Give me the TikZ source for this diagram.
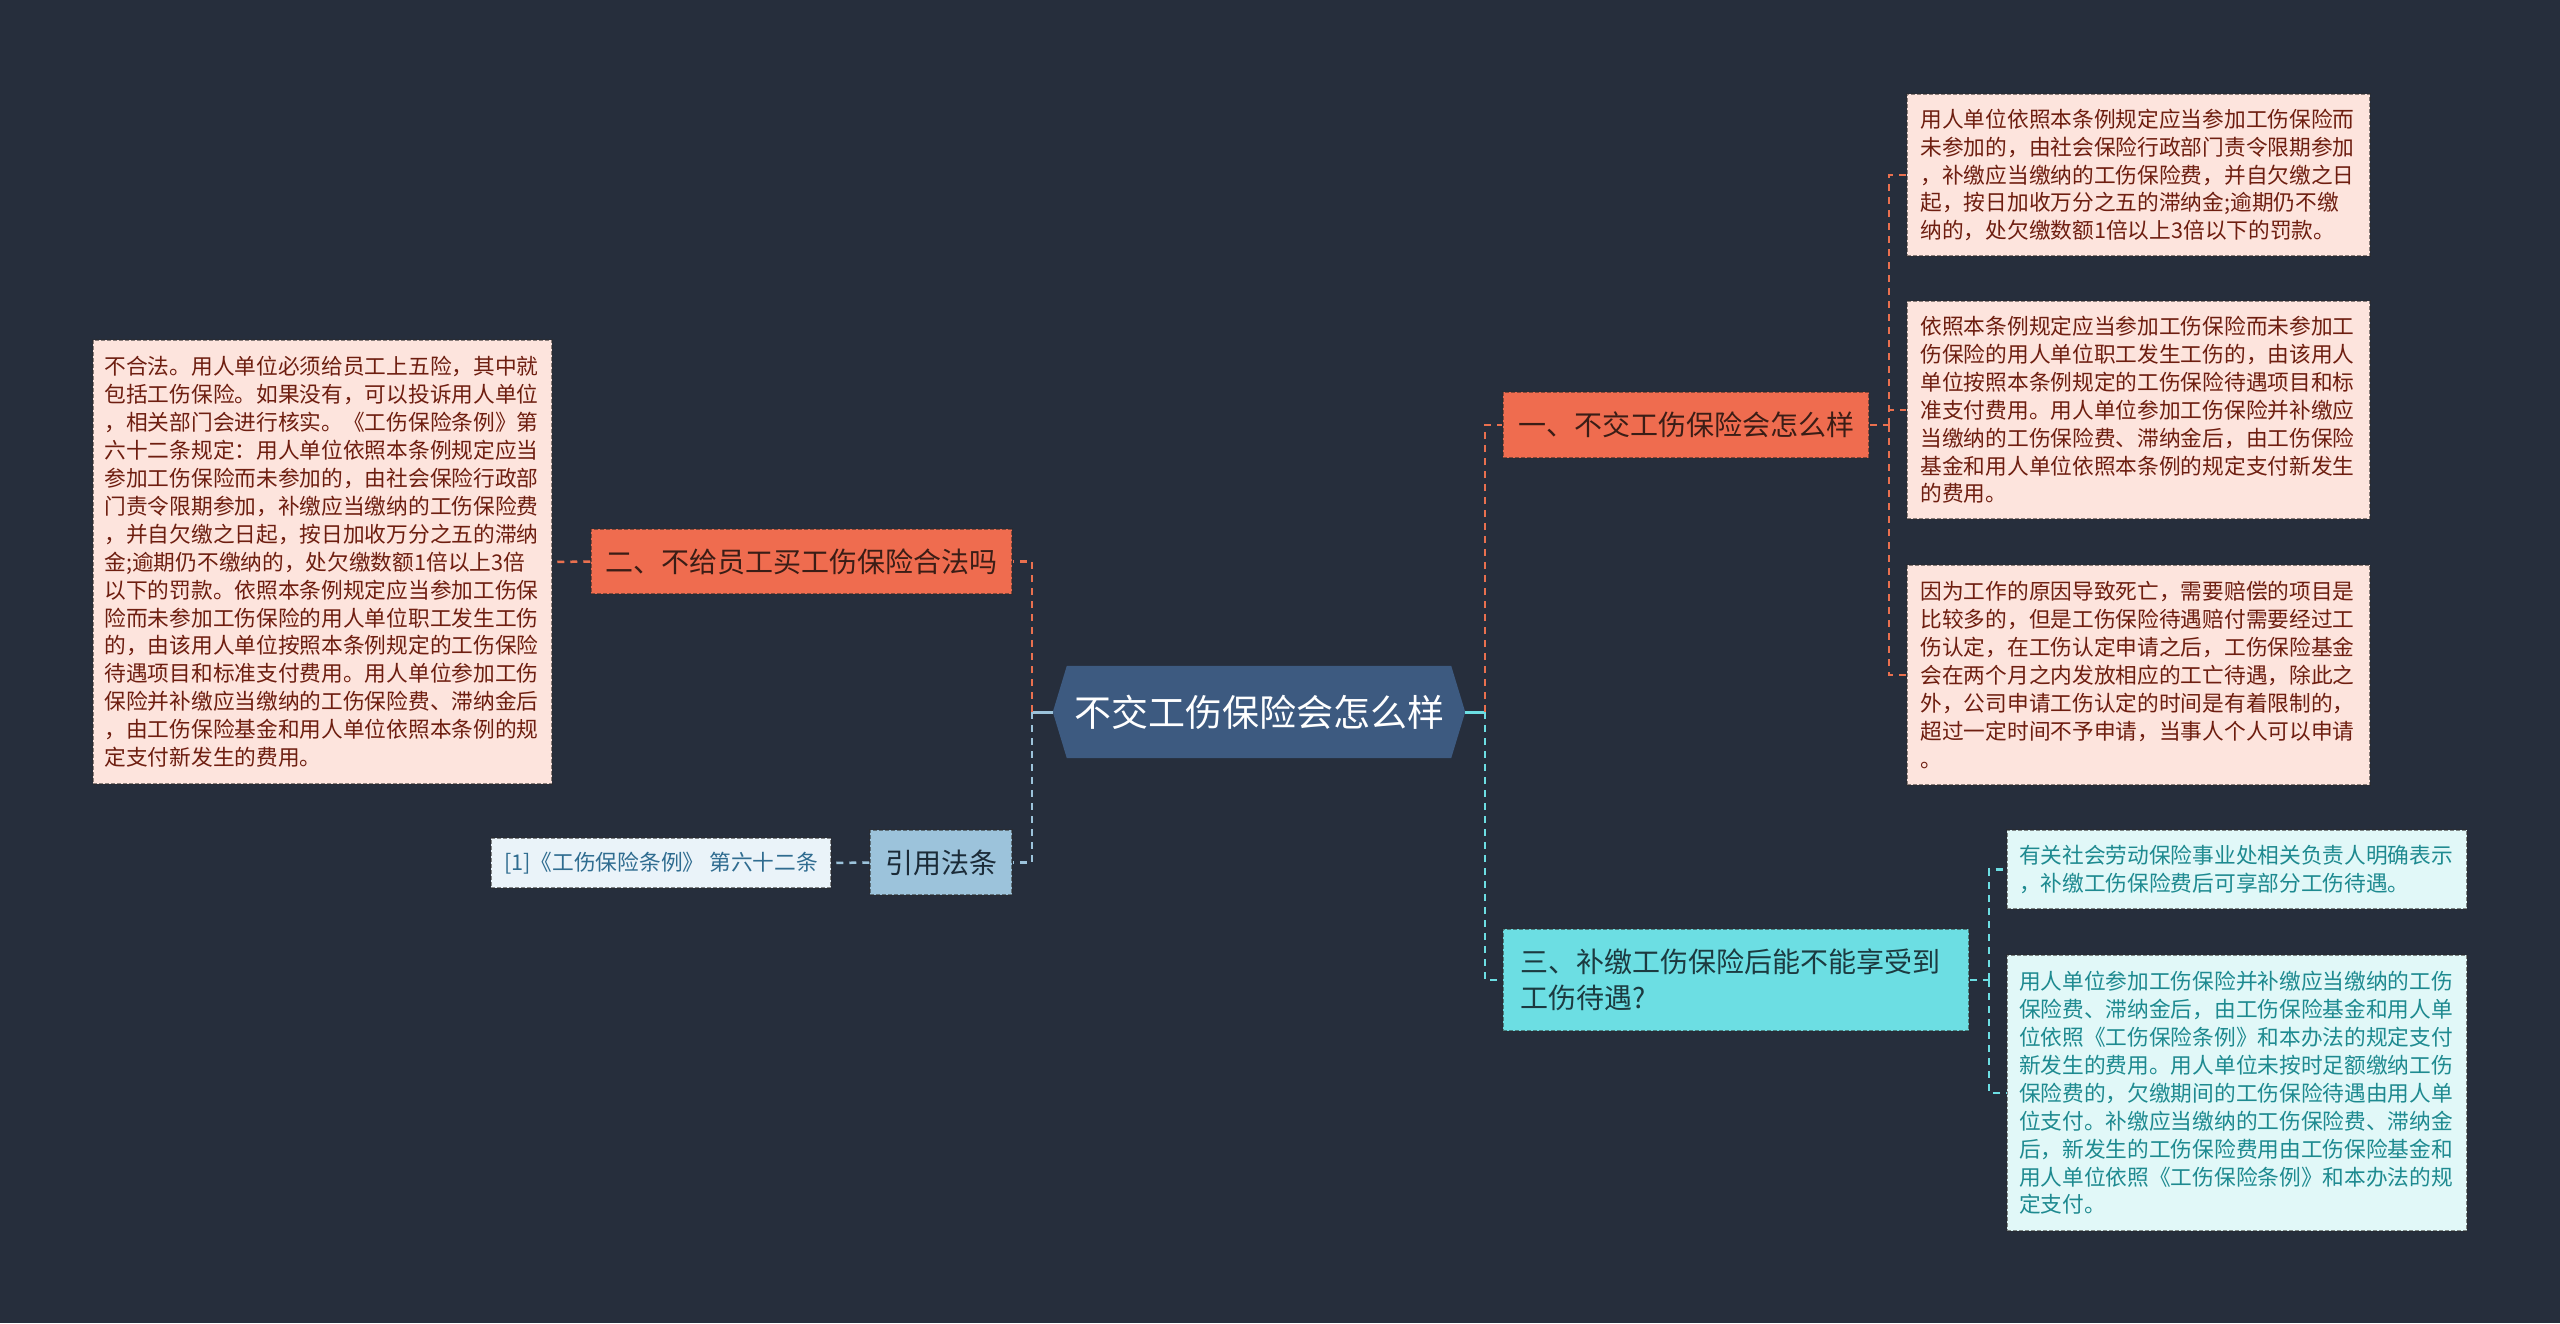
\documentclass[tikz,border=0pt]{standalone}
\usepackage{fontspec}
\setmainfont{Noto Sans CJK SC}
\definecolor{bg}{HTML}{262E3C}
\definecolor{rootfill}{HTML}{3D5A80}
\definecolor{orangefill}{HTML}{EF6C4F}
\definecolor{orangetext}{HTML}{3A1D16}
\definecolor{pinkfill}{HTML}{FDE4DD}
\definecolor{pinktext}{HTML}{6E1E10}
\definecolor{bluefill}{HTML}{9CC3DB}
\definecolor{bluetext}{HTML}{1B2B38}
\definecolor{paleblue}{HTML}{EAF3F9}
\definecolor{paleblueText}{HTML}{2F6C90}
\definecolor{cyanfill}{HTML}{6CDEE3}
\definecolor{cyantext}{HTML}{1C3A40}
\definecolor{palecyan}{HTML}{E1F8F8}
\definecolor{palecyanText}{HTML}{1E8A90}
\definecolor{orangeline}{HTML}{E9704F}
\definecolor{blueline}{HTML}{9CC3DB}
\definecolor{cyanline}{HTML}{6CDEE3}
\definecolor{edge}{HTML}{2A2A2A}
\tikzset{
  boxbase/.style={rectangle, draw=edge, draw opacity=0.55, line width=1.5pt,
    dash pattern=on 4pt off 2pt, inner xsep=0pt, inner ysep=0pt},
  branchbox/.style={boxbase, font=\fontsize{28}{36}\selectfont},
  detailbox/.style={boxbase, font=\fontsize{21.7}{27.9}\selectfont,
    text width=436pt, align=left},
  conn/.style={line width=2.5pt, dash pattern=on 7pt off 6pt},
  stub/.style={line width=3pt},
}
\begin{document}
\begin{tikzpicture}[x=1pt,y=-1pt]
\fill[bg] (0,0) rectangle (2560,1323);
\useasboundingbox (0,0) rectangle (2560,1323);

% root
\node[minimum width=412pt, minimum height=92pt, inner sep=0pt] (root) at (1259,712) {};
\fill[rootfill] ([xshift=14pt]root.north west) -- ([xshift=-14pt]root.north east)
  -- (root.east) -- ([xshift=-14pt]root.south east) -- ([xshift=14pt]root.south west)
  -- (root.west) -- cycle;
\node[text=white, font=\fontsize{37}{44}\selectfont] (roottext) at (root.center) {不交工伤保险会怎么样};

% left branches
\node[branchbox, fill=orangefill, text=orangetext, minimum width=421pt, minimum height=65pt] (b2) at (801.5,561.5) {二、不给员工买工伤保险合法吗};
\node[detailbox, fill=pinkfill, text=pinktext, minimum width=459pt, minimum height=444pt] (t2) at (322.5,562) {不合法。用人单位必须给员工上五险，其中就\\
包括工伤保险。如果没有，可以投诉用人单位\\
，相关部门会进行核实。《工伤保险条例》第\\
六十二条规定：用人单位依照本条例规定应当\\
参加工伤保险而未参加的，由社会保险行政部\\
门责令限期参加，补缴应当缴纳的工伤保险费\\
，并自欠缴之日起，按日加收万分之五的滞纳\\
金;逾期仍不缴纳的，处欠缴数额1倍以上3倍\\
以下的罚款。依照本条例规定应当参加工伤保\\
险而未参加工伤保险的用人单位职工发生工伤\\
的，由该用人单位按照本条例规定的工伤保险\\
待遇项目和标准支付费用。用人单位参加工伤\\
保险并补缴应当缴纳的工伤保险费、滞纳金后\\
，由工伤保险基金和用人单位依照本条例的规\\
定支付新发生的费用。};

\node[branchbox, fill=bluefill, text=bluetext, minimum width=142pt, minimum height=65pt] (b4) at (941,862.5) {引用法条};
\node[boxbase, fill=paleblue, text=paleblueText, font=\fontsize{21.7}{27.9}\selectfont, minimum width=340pt, minimum height=50pt] (t4) at (661,863) {[1]《工伤保险条例》 第六十二条};

% right branches
\node[branchbox, fill=orangefill, text=orangetext, minimum width=366pt, minimum height=66pt] (b1) at (1686,425) {一、不交工伤保险会怎么样};
\node[branchbox, fill=cyanfill, text=cyantext, minimum width=466pt, minimum height=102pt, text width=432pt, align=left] (b3) at (1736,980) {三、补缴工伤保险后能不能享受到\\工伤待遇?};

\node[detailbox, fill=pinkfill, text=pinktext, minimum width=463pt, minimum height=162pt] (r1) at (2138.5,175) {用人单位依照本条例规定应当参加工伤保险而\\
未参加的，由社会保险行政部门责令限期参加\\
，补缴应当缴纳的工伤保险费，并自欠缴之日\\
起，按日加收万分之五的滞纳金;逾期仍不缴\\
纳的，处欠缴数额1倍以上3倍以下的罚款。};
\node[detailbox, fill=pinkfill, text=pinktext, minimum width=463pt, minimum height=218pt] (r2) at (2138.5,410) {依照本条例规定应当参加工伤保险而未参加工\\
伤保险的用人单位职工发生工伤的，由该用人\\
单位按照本条例规定的工伤保险待遇项目和标\\
准支付费用。用人单位参加工伤保险并补缴应\\
当缴纳的工伤保险费、滞纳金后，由工伤保险\\
基金和用人单位依照本条例的规定支付新发生\\
的费用。};
\node[detailbox, fill=pinkfill, text=pinktext, minimum width=463pt, minimum height=220pt] (r3) at (2138.5,675) {因为工作的原因导致死亡，需要赔偿的项目是\\
比较多的，但是工伤保险待遇赔付需要经过工\\
伤认定，在工伤认定申请之后，工伤保险基金\\
会在两个月之内发放相应的工亡待遇，除此之\\
外，公司申请工伤认定的时间是有着限制的，\\
超过一定时间不予申请，当事人个人可以申请\\
。};

\node[detailbox, fill=palecyan, text=palecyanText, minimum width=460pt, minimum height=79pt] (c1) at (2237,869.5) {有关社会劳动保险事业处相关负责人明确表示\\
，补缴工伤保险费后可享部分工伤待遇。};
\node[detailbox, fill=palecyan, text=palecyanText, minimum width=460pt, minimum height=276pt] (c2) at (2237,1093) {用人单位参加工伤保险并补缴应当缴纳的工伤\\
保险费、滞纳金后，由工伤保险基金和用人单\\
位依照《工伤保险条例》和本办法的规定支付\\
新发生的费用。用人单位未按时足额缴纳工伤\\
保险费的，欠缴期间的工伤保险待遇由用人单\\
位支付。补缴应当缴纳的工伤保险费、滞纳金\\
后，新发生的工伤保险费用由工伤保险基金和\\
用人单位依照《工伤保险条例》和本办法的规\\
定支付。};

% junctions
\coordinate (jl) at (1032,712);
\coordinate (jr) at (1485,712);
\coordinate (j1) at (1889,425);
\coordinate (j3) at (1989,980);

% connectors
\draw[stub, blueline] (root.west) -- (jl);
\draw[stub, cyanline] (root.east) -- (jr);
\draw[conn, orangeline] (jl) |- (b2.east);
\draw[conn, blueline] (jl) |- (b4.east);
\draw[conn, orangeline] (jr) |- (b1.west);
\draw[conn, cyanline] (jr) |- (b3.west);
\draw[conn, orangeline] (b2.west) -- (t2.east);
\draw[conn, blueline] (b4.west) -- (t4.east);
\draw[conn, orangeline] (b1.east) -- (j1);
\draw[conn, orangeline] (j1) |- (r1.west);
\draw[conn, orangeline] (j1) |- (r2.west);
\draw[conn, orangeline] (j1) |- (r3.west);
\draw[conn, cyanline] (b3.east) -- (j3);
\draw[conn, cyanline] (j3) |- (c1.west);
\draw[conn, cyanline] (j3) |- (c2.west);
\end{tikzpicture}
\end{document}
